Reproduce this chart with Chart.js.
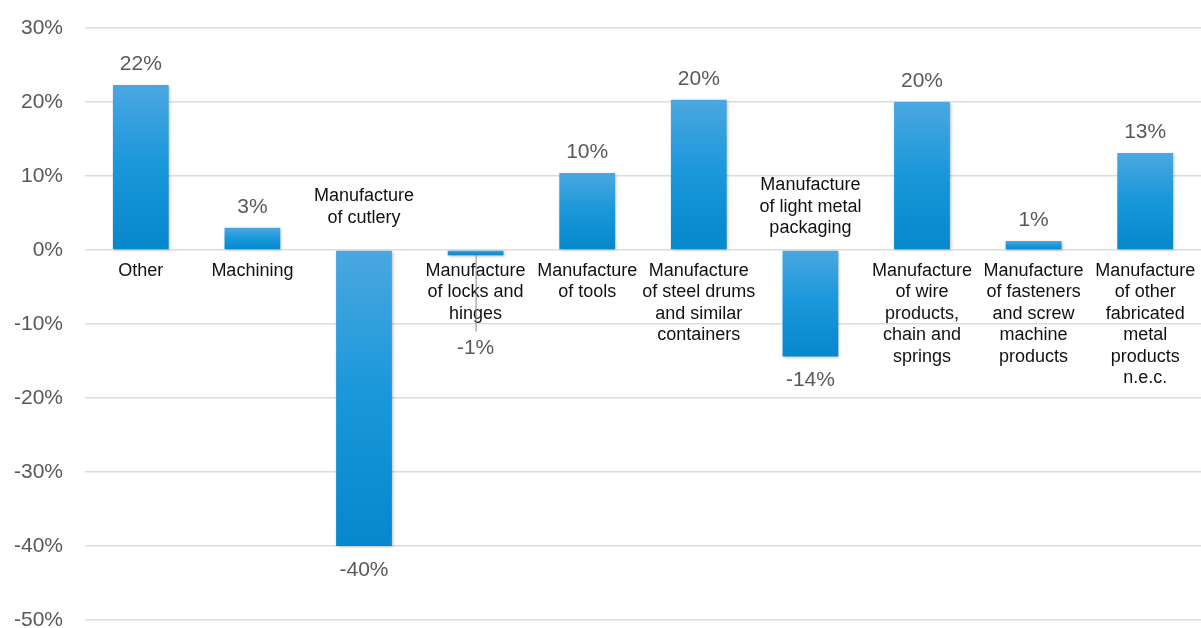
<!DOCTYPE html>
<html>
<head>
<meta charset="utf-8">
<script src="https://cdn.jsdelivr.net/npm/chart.js@4/dist/chart.umd.min.js"></script>
<style>
  html, body { margin: 0; padding: 0; background: #fff; }
  #wrap { width: 1201px; height: 628px; }
</style>
</head>
<body>
<div id="wrap"><canvas id="changeChart" width="1201" height="628"></canvas></div>
<script>
// sub-sector names, one entry per wrapped line
const categories = [
  ["Other"],
  ["Machining"],
  ["Manufacture", "of cutlery"],
  ["Manufacture", "of locks and", "hinges"],
  ["Manufacture", "of tools"],
  ["Manufacture", "of steel drums", "and similar", "containers"],
  ["Manufacture", "of light metal", "packaging"],
  ["Manufacture", "of wire", "products,", "chain and", "springs"],
  ["Manufacture", "of fasteners", "and screw", "machine", "products"],
  ["Manufacture", "of other", "fabricated", "metal", "products", "n.e.c."]
];

// percentage change per sub-sector
const changes = [22.3, 3.0, -40.0, -0.7, 10.4, 20.3, -14.4, 20.0, 1.2, 13.1];

const yMin = -50;
const yMax = 30;
const yStep = 10;

const FONT = '"Liberation Sans", Arial, sans-serif';
const LINE_H = 21.5;

function barGradient(c) {
  const chart = c.chart;
  const y = chart.scales.y;
  if (!y || c.raw === undefined) return "#1798da";
  const p = y.getPixelForValue(c.raw);
  const z = y.getPixelForValue(0);
  if (!isFinite(p) || !isFinite(z) || p === z) return "#1798da";
  const g = chart.ctx.createLinearGradient(0, Math.min(p, z), 0, Math.max(p, z));
  g.addColorStop(0, "#4ba7e0");
  g.addColorStop(0.5, "#1897da");
  g.addColorStop(1, "#0787cc");
  return g;
}

// soft drop shadow behind the bars
const barShadow = {
  id: "barShadow",
  beforeDatasetDraw(chart) {
    const ctx = chart.ctx;
    ctx.save();
    ctx.shadowColor = "rgba(0, 0, 0, 0.28)";
    ctx.shadowBlur = 3;
    ctx.shadowOffsetX = 1;
    ctx.shadowOffsetY = 1;
  },
  afterDatasetDraw(chart) {
    chart.ctx.restore();
  }
};

// category names next to the zero line and value labels at bar ends
const barLabels = {
  id: "barLabels",
  afterDatasetsDraw(chart) {
    const ctx = chart.ctx;
    const xs = chart.scales.x;
    const ys = chart.scales.y;
    const zero = ys.getPixelForValue(0);
    ctx.save();
    ctx.textAlign = "center";
    ctx.textBaseline = "middle";

    categories.forEach((lines, i) => {
      const x = xs.getPixelForValue(i);
      const v = changes[i];
      const end = ys.getPixelForValue(v);
      const nameAbove = v < -5;

      ctx.fillStyle = "#111";
      ctx.font = "18px " + FONT;
      lines.forEach((line, k) => {
        let ly;
        if (nameAbove) {
          ly = zero - 43 + (k - (lines.length - 1) / 2) * LINE_H;
        } else {
          ly = zero + 21 + k * LINE_H;
        }
        ctx.fillText(line, x, ly);
      });

      let vy;
      if (v >= 0) {
        vy = end - 21;
      } else if (nameAbove) {
        vy = end + 24;
      } else {
        const textBottom = zero + 10 + lines.length * LINE_H;
        vy = Math.max(end, textBottom) + 24;
        // leader line from the short bar to its label
        ctx.strokeStyle = "#8c8c8c";
        ctx.lineWidth = 1;
        ctx.beginPath();
        ctx.moveTo(x + 0.5, end);
        ctx.lineTo(x + 0.5, vy - 17);
        ctx.stroke();
      }
      ctx.fillStyle = "#595959";
      ctx.font = "21px " + FONT;
      ctx.fillText(Math.round(v) + "%", x, vy);
    });
    ctx.restore();
  }
};

new Chart(document.getElementById("changeChart"), {
  type: "bar",
  data: {
    labels: categories,
    datasets: [
      {
        data: changes,
        backgroundColor: barGradient,
        borderWidth: 0,
        barPercentage: 0.5,
        categoryPercentage: 1.0
      }
    ]
  },
  options: {
    responsive: false,
    animation: false,
    layout: { padding: { top: 28, right: 0, bottom: 8, left: 0 } },
    plugins: {
      legend: { display: false },
      tooltip: { enabled: false }
    },
    scales: {
      x: { display: false },
      y: {
        min: yMin,
        max: yMax,
        border: { display: false },
        grid: { color: "#dcdcdc", lineWidth: 1.5, drawTicks: false },
        ticks: {
          stepSize: yStep,
          padding: 22,
          color: "#595959",
          font: { family: FONT, size: 21 },
          callback: (v) => v + "%"
        },
        afterFit(scale) {
          scale.width = 85;
          scale.paddingTop = 0;
          scale.paddingBottom = 0;
        }
      }
    }
  },
  plugins: [barShadow, barLabels]
});
</script>
</body>
</html>
